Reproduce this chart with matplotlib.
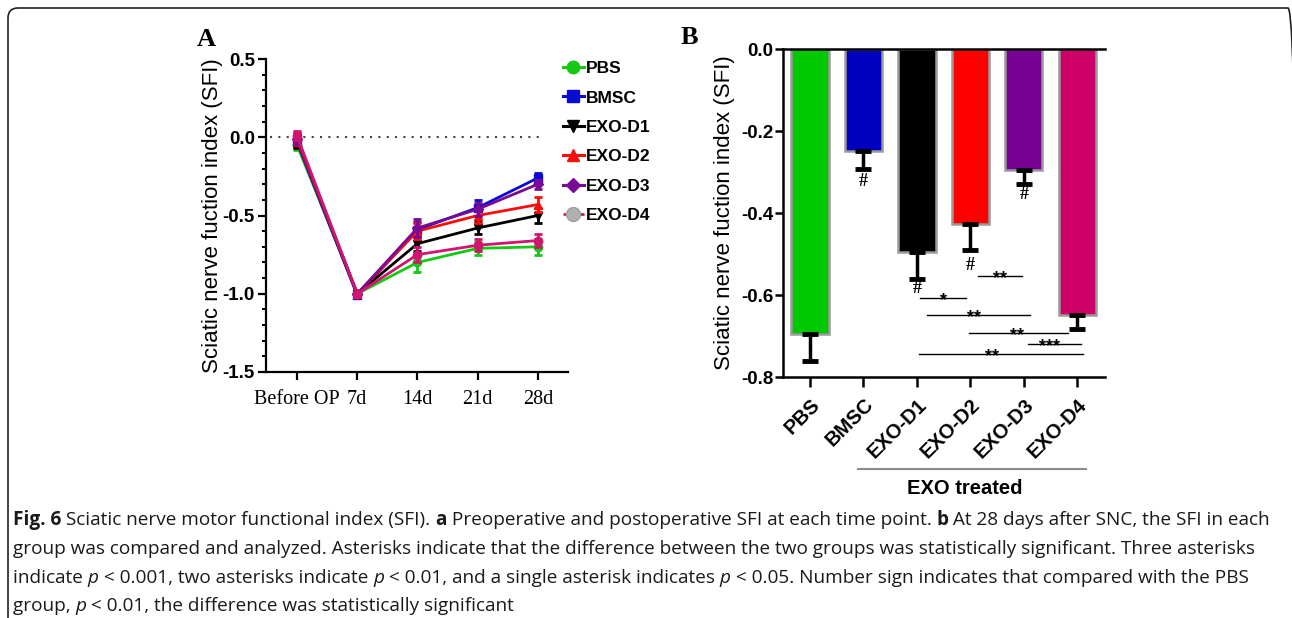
import matplotlib
matplotlib.use("Agg")
import matplotlib.pyplot as plt
from matplotlib.lines import Line2D
from matplotlib.patches import FancyBboxPatch
from matplotlib.ticker import MultipleLocator
import matplotlib.transforms as mtransforms
import numpy as np

# ---------------- data ----------------
timepoints = ["Before OP", "7d", "14d", "21d", "28d"]
groups = ["PBS", "BMSC", "EXO-D1", "EXO-D2", "EXO-D3", "EXO-D4"]
pbs_mean = [-0.05, -1.00, -0.80, -0.71, -0.70]
pbs_err = [0.03, 0.02, 0.06, 0.04, 0.05]
bmsc_mean = [-0.03, -1.01, -0.59, -0.45, -0.26]
bmsc_err = [0.03, 0.02, 0.05, 0.05, 0.03]
d1_mean = [-0.02, -1.00, -0.68, -0.58, -0.50]
d1_err = [0.05, 0.01, 0.05, 0.04, 0.05]
d2_mean = [-0.02, -1.00, -0.60, -0.50, -0.43]
d2_err = [0.03, 0.01, 0.05, 0.05, 0.05]
d3_mean = [-0.01, -1.00, -0.58, -0.46, -0.30]
d3_err = [0.03, 0.01, 0.06, 0.04, 0.03]
d4_mean = [0.01, -1.00, -0.75, -0.69, -0.66]
d4_err = [0.03, 0.01, 0.05, 0.04, 0.04]

bar_mean = [-0.694, -0.248, -0.494, -0.427, -0.295, -0.649]
bar_err = [0.067, 0.045, 0.067, 0.063, 0.034, 0.033]
hash_groups = [1, 2, 3, 4]
hash_y = [-0.322, -0.585, -0.527, -0.356]
sig_x0 = [2.06, 3.14, 2.18, 2.97, 4.07, 2.04]
sig_x1 = [2.92, 3.96, 4.11, 4.83, 5.07, 5.10]
sig_y = [-0.607, -0.554, -0.648, -0.692, -0.720, -0.745]
sig_lab = ["*", "**", "**", "**", "***", "**"]
sig_lx = [2.50, 3.55, 3.07, 3.87, 4.49, 3.40]

colors = ["#14c814", "#0a0ad2", "#000000", "#ff0a0a", "#780a96", "#d2146e"]
bar_colors = ["#00c800", "#0000c0", "#000000", "#ff0000", "#760090", "#cc0066"]

W, H = 1292, 618
fig = plt.figure(figsize=(W / 100, H / 100), dpi=100)
fig.patch.set_facecolor("white")

def fx(px):
    return px / W

def fy(py):
    return 1 - py / H

ARIAL = ["Liberation Sans", "DejaVu Sans"]
SERIF = ["Liberation Serif", "DejaVu Serif"]

# frame
frame = FancyBboxPatch((8, -60), 1290, 670, boxstyle="round,pad=0,rounding_size=10",
                       transform=None, fill=False, edgecolor="#222222", linewidth=1.2,
                       clip_on=False)
fig.patches.append(frame)

# ---------------- Panel A ----------------
axA = fig.add_axes([fx(266), fy(372), fx(568) - fx(266), fy(59) - fy(372)])
x = np.arange(len(timepoints))
series = [(pbs_mean, pbs_err, "o"), (bmsc_mean, bmsc_err, "s"), (d1_mean, d1_err, "v"),
          (d2_mean, d2_err, "^"), (d3_mean, d3_err, "D"), (d4_mean, d4_err, "o")]
handles = []
for i, (m, e, mk) in enumerate(series):
    c = colors[i]
    if i == 5:
        axA.errorbar(x, m, yerr=e, color=c, lw=2, marker="o", ms=6, mfc=c, mec=c,
                     elinewidth=2, capsize=3, capthick=2, zorder=3 + i)
        h = Line2D([], [], color=c, lw=2, ls="--", marker="o", ms=10, mfc="#b0b0b0",
                   mec="#a0a0a0")
    else:
        axA.errorbar(x, m, yerr=e, color=c, lw=2, marker=mk, ms=6 if mk != "D" else 5,
                     mfc=c, mec=c, elinewidth=2, capsize=3, capthick=2, zorder=3 + i)
        h = Line2D([], [], color=c, lw=2.2, marker=mk, ms=9 if mk != "D" else 7, mfc=c, mec=c)
    handles.append(h)
axA.hlines(0, -0.45, 4.05, colors="#444444", linestyles=(0, (1, 3)), lw=1.5)
axA.set_xlim(-0.515, 4.5)
axA.set_ylim(-1.5, 0.5)
axA.spines[["top", "right"]].set_visible(False)
for s in ["left", "bottom"]:
    axA.spines[s].set_linewidth(1.6)
axA.set_xticks(x)
axA.set_xticklabels(timepoints, family=SERIF, fontsize=14.5)
first = axA.get_xticklabels()[0]
first.set_transform(first.get_transform() +
                    mtransforms.ScaledTranslation(-12 / 100, 0, fig.dpi_scale_trans))
axA.yaxis.set_minor_locator(MultipleLocator(0.1))
axA.set_yticks([0.5, 0.0, -0.5, -1.0, -1.5])
axA.set_yticklabels(["0.5", "0.0", "-0.5", "-1.0", "-1.5"], family=ARIAL, fontsize=13.5,
                    fontweight="bold")
axA.tick_params(axis="both", which="major", length=6, width=1.6, pad=2)
axA.tick_params(axis="y", which="minor", length=3, width=1.4)
axA.tick_params(axis="x", pad=7)
axA.set_ylabel("Sciatic nerve fuction index (SFI)", family=ARIAL, fontsize=16, labelpad=0)
leg = axA.legend(handles, groups, loc="upper left", bbox_to_anchor=(fx(563), fy(61)),
                 bbox_transform=fig.transFigure, frameon=False, handlelength=1.2,
                 handletextpad=0.12, labelspacing=0.82, borderpad=0, borderaxespad=0,
                 prop={"family": ARIAL, "weight": "bold", "size": 12.5})
fig.text(fx(197), fy(40), "A", family=SERIF, fontweight="bold", fontsize=19, va="center")

# ---------------- Panel B ----------------
axB = fig.add_axes([fx(783), fy(377), fx(1105) - fx(783), fy(49) - fy(377)])
xb = np.arange(len(groups))
axB.bar(xb, bar_mean, width=0.7, color=bar_colors, edgecolor="#9a9a9a", linewidth=1.8,
        zorder=2)
axB.errorbar(xb, bar_mean, yerr=[bar_err, [0] * len(bar_err)], fmt="none", ecolor="black",
             elinewidth=2.5, capsize=6, capthick=3.5, zorder=3)
for g, hy in zip(hash_groups, hash_y):
    axB.text(g, hy, "#", ha="center", va="center", fontsize=13, fontweight="bold",
             family=SERIF)
for a, b, y, lab, lx in zip(sig_x0, sig_x1, sig_y, sig_lab, sig_lx):
    axB.plot([a, b], [y, y], color="black", lw=1.0, zorder=4)
    axB.text(lx, y - 0.006, lab, ha="center", va="center", fontsize=13, fontweight="bold",
             family=ARIAL, zorder=5)
axB.set_xlim(-0.506, 5.52)
axB.set_ylim(-0.8, 0.0)
axB.spines["right"].set_visible(False)
for s in ["left", "bottom", "top"]:
    axB.spines[s].set_linewidth(1.8)
axB.set_yticks([0.0, -0.2, -0.4, -0.6, -0.8])
axB.set_yticklabels(["0.0", "-0.2", "-0.4", "-0.6", "-0.8"], family=ARIAL, fontsize=13.5,
                    fontweight="bold")
axB.set_xticks(xb)
axB.set_xticklabels(groups, rotation=45, ha="right", rotation_mode="anchor",
                    family=ARIAL, fontsize=14.5, fontweight="bold")
axB.tick_params(axis="both", length=6, width=1.8, pad=1)
axB.tick_params(axis="x", length=7, pad=6)
axB.set_ylabel("Sciatic nerve fuction index (SFI)", family=ARIAL, fontsize=16, labelpad=4)
fig.text(fx(681), fy(38), "B", family=SERIF, fontweight="bold", fontsize=19, va="center")
fig.add_artist(Line2D([fx(858), fx(1086)], [fy(469), fy(469)], color="#8a8a8a", lw=1.5))
fig.text(fx(965), fy(489), "EXO treated", family=ARIAL, fontweight="bold", fontsize=14.5,
         ha="center", va="center")

# ---------------- Caption ----------------
renderer = fig.canvas.get_renderer()
CAP = ["Open Sans", "DejaVu Sans"]

def seg_width(txt, fs, weight, style):
    t1 = fig.text(0, 0, "|" + txt + "|", fontsize=fs, family=CAP, fontweight=weight,
                  fontstyle=style)
    t2 = fig.text(0, 0, "||", fontsize=fs, family=CAP, fontweight=weight, fontstyle=style)
    w = t1.get_window_extent(renderer).width - t2.get_window_extent(renderer).width
    t1.remove()
    t2.remove()
    return w

N, B, I = "normal", "bold", "italic"
lines = [
    [("Fig. 6", B, N), (" Sciatic nerve motor functional index (SFI). ", N, N), ("a", B, N),
     (" Preoperative and postoperative SFI at each time point. ", N, N), ("b", B, N),
     (" At 28 days after SNC, the SFI in each", N, N)],
    [("group was compared and analyzed. Asterisks indicate that the difference between the two groups was statistically significant. Three asterisks", N, N)],
    [("indicate ", N, N), ("p", N, I), (" < 0.001, two asterisks indicate ", N, N), ("p", N, I),
     (" < 0.01, and a single asterisk indicates ", N, N), ("p", N, I),
     (" < 0.05. Number sign indicates that compared with the PBS", N, N)],
    [("group, ", N, N), ("p", N, I), (" < 0.01, the difference was statistically significant", N, N)],
]
line_y = [520, 549, 578, 606]
fs0 = 12
w1 = sum(seg_width(t, fs0, w, s) for t, w, s in lines[0])
fs = fs0 * 1258 / w1
for segs, ly in zip(lines, line_y):
    xpos = 13
    for t, w, s in segs:
        fig.text(fx(xpos), fy(ly), t, fontsize=fs, family=CAP, fontweight=w, fontstyle=s,
                 va="center", ha="left", color="#1a1a1a")
        xpos += seg_width(t, fs, w, s)

fig.savefig("out.png", dpi=100)
